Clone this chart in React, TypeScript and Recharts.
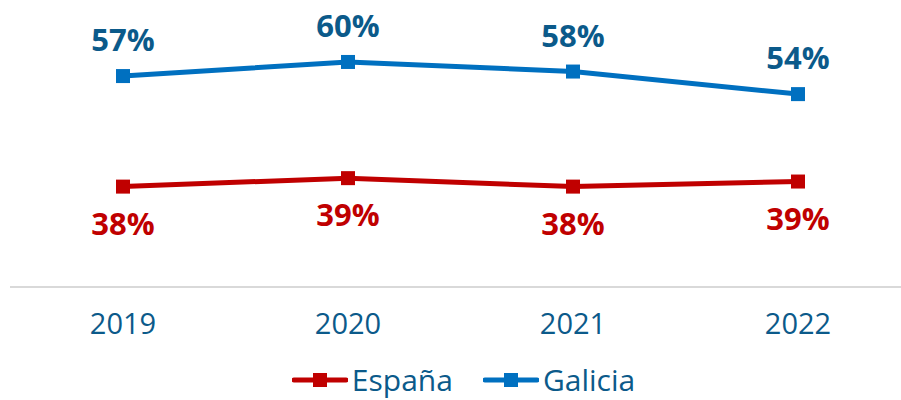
import React from "react"
import { LineChart, Line, XAxis, YAxis, LabelList, Legend } from "recharts"

const years = ["2019", "2020", "2021", "2022"]
const espana = [37.8, 39.3, 37.8, 38.7]
const galicia = [57.4, 59.9, 58.2, 54.2]

const RED = "#C00000"
const BLUE = "#0070C0"
const DARK_BLUE = "#0B5A8A"
const FONT = "'Open Sans', sans-serif"

const data = years.map((y, i) => ({ year: y, espana: espana[i], galicia: galicia[i] }))

const YearTick = ({ x, y, payload }: any) => (
  <text x={x} y={y + 47} textAnchor="middle" fill={DARK_BLUE} fontSize={29} fontFamily={FONT}>
    {payload.value}
  </text>
)

const makeLabel = (color: string, dy: number) => (props: any) => {
  const { x, y, value } = props
  return (
    <text x={x} y={y + dy} textAnchor="middle" fill={color} fontSize={31} fontWeight={700} fontFamily={FONT}>
      {Math.round(value)}%
    </text>
  )
}

const series = [
  { name: "España", color: RED },
  { name: "Galicia", color: BLUE },
]

const CustomLegend = () => (
  <div style={{ height: 40, display: "flex", justifyContent: "center", alignItems: "center", gap: 30, paddingLeft: 16 }}>
    {series.map((s) => (
      <div key={s.name} style={{ display: "flex", alignItems: "center" }}>
        <svg width={56} height={16} style={{ marginRight: 4 }}>
          <line x1={2} y1={8} x2={54} y2={8} stroke={s.color} strokeWidth={5} strokeLinecap="round" />
          <rect x={21} y={1} width={14} height={14} fill={s.color} />
        </svg>
        <span style={{ fontFamily: FONT, fontSize: 30, color: DARK_BLUE, lineHeight: "40px" }}>{s.name}</span>
      </div>
    ))}
  </div>
)

const Square = (color: string) => (props: any) => {
  const { cx, cy } = props
  return <rect key={`${cx}-${cy}`} x={cx - 7} y={cy - 7} width={14} height={14} fill={color} />
}

export default function App() {
  return (
    <div style={{ position: "absolute", left: 0, top: 0, width: 901, height: 400, background: "#fff" }}>
      <LineChart width={901} height={400} data={data} margin={{ top: 5, right: 0, left: 10, bottom: 0 }}>
        <XAxis
          dataKey="year"
          height={73}
          tickLine={false}
          tickSize={0}
          tickMargin={0}
          padding={{ left: 113, right: 103 }}
          axisLine={{ stroke: "#d9d9d9", strokeWidth: 2 }}
          tick={<YearTick />}
        />
        <YAxis hide domain={[20, 70]} />
        <Legend verticalAlign="bottom" content={<CustomLegend />} />
        <Line
          dataKey="espana"
          name="España"
          stroke={RED}
          strokeWidth={5}
          dot={Square(RED)}
          activeDot={false}
          isAnimationActive={false}
        >
          <LabelList dataKey="espana" content={makeLabel(RED, 48)} />
        </Line>
        <Line
          dataKey="galicia"
          name="Galicia"
          stroke={BLUE}
          strokeWidth={5}
          dot={Square(BLUE)}
          activeDot={false}
          isAnimationActive={false}
        >
          <LabelList dataKey="galicia" content={makeLabel(DARK_BLUE, -25)} />
        </Line>
      </LineChart>
    </div>
  )
}
